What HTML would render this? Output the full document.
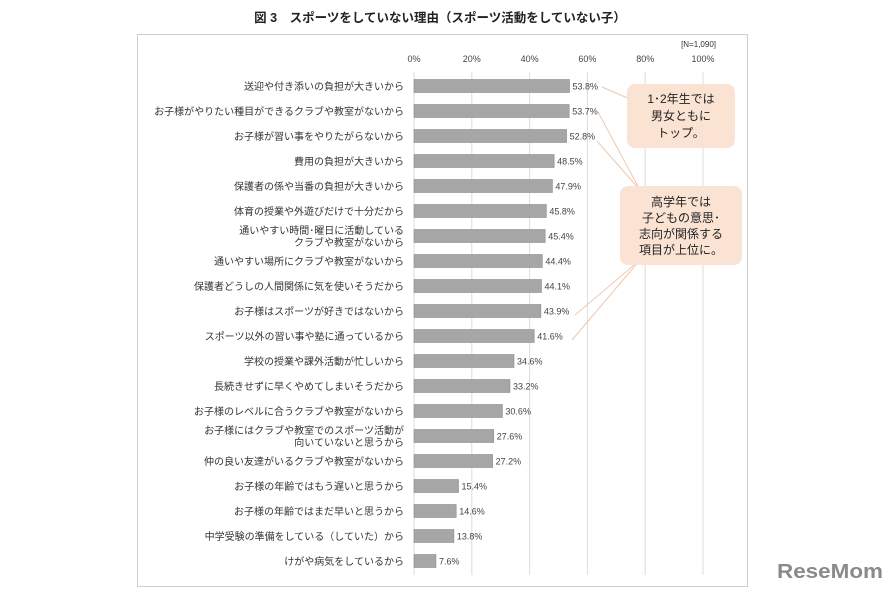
<!DOCTYPE html>
<html><head><meta charset="utf-8"><style>
body{margin:0;background:#fff;width:888px;height:592px;overflow:hidden;font-family:"Liberation Sans","Noto Sans CJK JP",sans-serif}
</style></head><body>
<svg id="c" width="888" height="592" xmlns="http://www.w3.org/2000/svg" style="font-family:'Liberation Sans','Noto Sans CJK JP',sans-serif">
<text x="440" y="22" text-anchor="middle" font-size="12.5" font-weight="bold" fill="#222">図 3　スポーツをしていない理由（スポーツ活動をしていない子）</text>
<rect x="137.5" y="34.5" width="610" height="552" fill="none" stroke="#cfcfcf"/>
<text x="716" y="47" text-anchor="end" font-size="8" fill="#333">[N=1,090]</text>
<g id="grid"></g><g id="bars"></g>
<g>
<path d="M602,87 L632,100" stroke="#ecc9b0" fill="none"/>
<rect x="627" y="84" width="108" height="64" rx="8" fill="#fae3d3"/>
<text x="681" y="103" text-anchor="middle" font-size="12" fill="#222">1･2年生では</text>
<text x="681" y="120" text-anchor="middle" font-size="12" fill="#222">男女ともに</text>
<text x="681" y="137" text-anchor="middle" font-size="12" fill="#222">トップ。</text>
</g>
<g>
<path d="M640,190 L598,112 M640,190 L597,141 M640,260 L575,315 M640,260 L572,340" stroke="#ecc9b0" fill="none"/>
<rect x="620" y="186" width="122" height="79" rx="8" fill="#fae3d3"/>
<text x="681" y="206" text-anchor="middle" font-size="12" fill="#222">高学年では</text>
<text x="681" y="222" text-anchor="middle" font-size="12" fill="#222">子どもの意思･</text>
<text x="681" y="238" text-anchor="middle" font-size="12" fill="#222">志向が関係する</text>
<text x="681" y="254" text-anchor="middle" font-size="12" fill="#222">項目が上位に。</text>
</g>
<text x="830" y="578" text-anchor="middle" font-size="20" font-weight="bold" fill="#8a8a8a" textLength="106" lengthAdjust="spacingAndGlyphs">ReseMom</text>
</svg>
<script>
const categories=["送迎や付き添いの負担が大きいから","お子様がやりたい種目ができるクラブや教室がないから","お子様が習い事をやりたがらないから","費用の負担が大きいから","保護者の係や当番の負担が大きいから","体育の授業や外遊びだけで十分だから","通いやすい時間･曜日に活動している|クラブや教室がないから","通いやすい場所にクラブや教室がないから","保護者どうしの人間関係に気を使いそうだから","お子様はスポーツが好きではないから","スポーツ以外の習い事や塾に通っているから","学校の授業や課外活動が忙しいから","長続きせずに早くやめてしまいそうだから","お子様のレベルに合うクラブや教室がないから","お子様にはクラブや教室でのスポーツ活動が|向いていないと思うから","仲の良い友達がいるクラブや教室がないから","お子様の年齢ではもう遅いと思うから","お子様の年齢ではまだ早いと思うから","中学受験の準備をしている（していた）から","けがや病気をしているから"];
const values=[53.8,53.7,52.8,48.5,47.9,45.8,45.4,44.4,44.1,43.9,41.6,34.6,33.2,30.6,27.6,27.2,15.4,14.6,13.8,7.6];
const ticks=[0,20,40,60,80,100];
const NS="http://www.w3.org/2000/svg";
const x=v=>414+v*2.89, y=i=>86+i*25;
function mk(tag,at,p){const e=document.createElementNS(NS,tag);for(const k in at)e.setAttribute(k,at[k]);p.appendChild(e);return e;}
const g=document.getElementById('grid'),b=document.getElementById('bars');
ticks.forEach(t=>{
 const l=mk('line',{x1:x(t),x2:x(t),y1:72,y2:575,stroke:'#dcdcdc'},g);
 
 
 const tx=mk('text',{x:x(t),y:62,'text-anchor':'middle','font-size':9,fill:'#444'},g);
 tx.textContent=t+'%';
 
 
});
values.forEach((v,i)=>{
 const r=mk('rect',{x:x(0),y:y(i)-6.5,width:x(v)-x(0),height:13,fill:'#a6a6a6',stroke:'#8c8c8c','stroke-width':0.6},b);
 
 
 const vt=mk('text',{x:x(v)+3,y:y(i)+3.5,'font-size':9,fill:'#444'},b);
 vt.textContent=v.toFixed(1)+'%';
 
 
 const parts=categories[i].split('|');
 parts.forEach((p,j)=>{
  const ct=mk('text',{x:404,y:y(i)+4-(parts.length-1)*6+j*12,'text-anchor':'end','font-size':10,fill:'#333'},b);
  ct.textContent=p;
  
  
 });
});
</script>
</body></html>
